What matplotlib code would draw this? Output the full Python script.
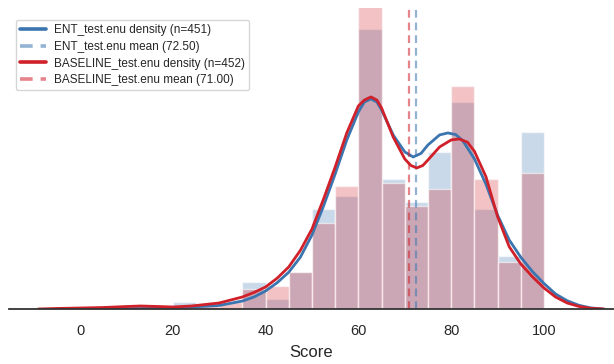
import matplotlib.pyplot as plt
import numpy as np
import seaborn as sns
from matplotlib.colors import to_rgba

# histogram bins (width 5) and counts
bin_edges = np.arange(5, 105, 5)
ent_counts = [0, 0, 0, 2, 0, 0, 8, 3, 11, 30, 34, 84, 39, 32, 47, 62, 30, 16, 53]
base_counts = [1, 1, 0, 0, 1, 2, 6, 7, 11, 26, 37, 94, 38, 31, 36, 67, 39, 14, 41]

# density curves (density x 1000)
ent_kde_x = [5, 10, 15, 20, 24, 30, 35, 37.5, 40, 42.5, 45, 47.5, 50, 52.5, 55,
             57.5, 60, 61.3, 62.7, 64, 65, 67.5, 70, 71.8, 73.5, 75, 77.5, 79.3,
             81, 82.5, 85, 87.5, 90, 92.5, 95, 97.5, 100, 102.5, 105, 107.5, 110,
             112.7]
ent_kde_y = [0, 0.04, 0.07, 0.13, 0.27, 0.47, 1.06, 1.6, 2.4, 3.5, 4.9, 6.9, 9.85,
             13.71, 17.97, 22.49, 26.22, 27.55, 27.95, 27.55, 26.49, 23.16, 20.9,
             20.23, 20.7, 21.83, 23.16, 23.43, 23.2, 22.4, 20.0, 16.6, 12.5, 9.2,
             6.9, 5.0, 3.4, 2.0, 1.1, 0.5, 0.15, 0]
base_kde_x = [-9, -5, 0, 5, 10, 13, 17, 20, 24, 30, 35, 37.5, 40, 42.5, 45, 47.5,
              50, 52.5, 55, 57.5, 60, 61.3, 62.7, 64, 65, 67.5, 70, 71.3, 72.6, 73.9,
              75, 77.5, 80, 81.7, 83.5, 85, 87.5, 90, 92.5, 95, 97.5, 100, 102.5,
              105, 107.5, 110, 113]
base_kde_y = [0, 0.07, 0.13, 0.2, 0.33, 0.4, 0.33, 0.27, 0.4, 0.8, 1.6, 2.2, 2.93,
              4.1, 5.6, 7.8, 10.65, 14.64, 18.9, 23.43, 27.02, 27.8, 28.22, 27.8,
              26.75, 22.89, 19.97, 19.1, 18.77, 19.1, 19.83, 21.56, 22.49, 22.63,
              22.2, 21.0, 17.6, 12.3, 8.3, 6.0, 4.3, 2.8, 1.6, 0.8, 0.35, 0.1, 0]

ent_n = 451
base_n = 452
ent_mean = 72.50
base_mean = 71.00

xticks = [0, 20, 40, 60, 80, 100]

blue = "#3b75af"
red = "#d0202a"

sns.set_style("white")
plt.rcParams['font.family'] = ['Liberation Sans', 'DejaVu Sans']

fig = plt.figure(figsize=(6.14, 3.64), dpi=100)
ax = fig.add_axes([0.0147, 0.1511, 0.9853, 0.8269])

centers = (bin_edges[:-1] + bin_edges[1:]) / 2


def draw_hist(counts, color):
    ax.hist(centers, bins=bin_edges, weights=counts, density=True,
            facecolor=to_rgba(color, 0.27), edgecolor=(1, 1, 1, 0.55),
            linewidth=1)


draw_hist(ent_counts, blue)
draw_hist(base_counts, red)

ax.plot(ent_kde_x, np.array(ent_kde_y) / 1000, color=blue, lw=2,
        solid_joinstyle="round", label=f"ENT_test.enu density (n={ent_n})")
ax.axvline(ent_mean, color=blue, alpha=0.55, lw=1.6, ls=(0, (3.5, 2.2)),
           label=f"ENT_test.enu mean ({ent_mean:.2f})")
ax.plot(base_kde_x, np.array(base_kde_y) / 1000, color=red, lw=2,
        solid_joinstyle="round", label=f"BASELINE_test.enu density (n={base_n})")
ax.axvline(base_mean, color=red, alpha=0.55, lw=1.6, ls=(0, (3.5, 2.2)),
           label=f"BASELINE_test.enu mean ({base_mean:.2f})")

ax.set_xlim(-15.3, 115.1)
ax.set_ylim(0, 0.04005)
ax.set_xticks(xticks)
ax.set_xticklabels([str(t) for t in xticks])
ax.set_yticks([])
ax.tick_params(axis='x', length=0, pad=11, labelsize=10.5, colors="#262626")
ax.set_xlabel("Score", fontsize=12, color="#262626", labelpad=5)

for s in ["left", "top", "right"]:
    ax.spines[s].set_visible(False)
ax.spines["bottom"].set_color("#333333")
ax.spines["bottom"].set_linewidth(1.3)

leg = ax.legend(loc="upper left", bbox_to_anchor=(0.011, 0.96), borderaxespad=0,
                fontsize=8.5, labelspacing=0.4, borderpad=0.35,
                handlelength=2.2, handletextpad=0.7, frameon=True)
leg.get_frame().set_edgecolor("#cccccc")
for line in leg.get_lines():
    line.set_linewidth(2.6)

fig.savefig("out.png", dpi=100)
